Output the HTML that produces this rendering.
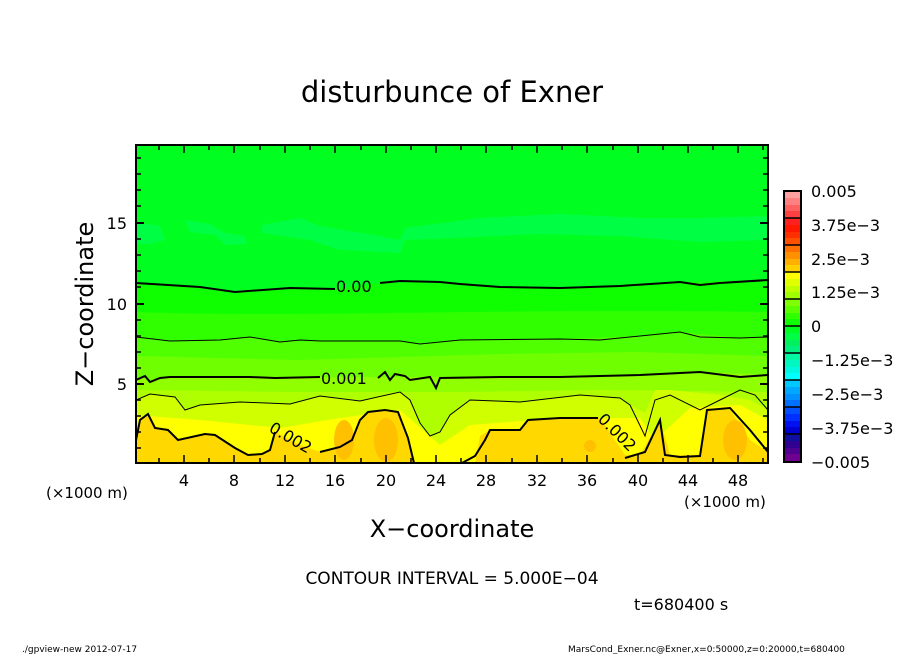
<!DOCTYPE html>
<html><head><style>
body{margin:0;background:#fff;}
svg text{font-family:"DejaVu Sans","Liberation Sans",sans-serif;}
</style></head><body>
<svg width="904" height="654" xmlns="http://www.w3.org/2000/svg">
<defs><clipPath id="c"><rect x="136" y="145" width="632" height="318"/></clipPath></defs>
<g clip-path="url(#c)">
<rect x="136" y="145" width="632" height="318" fill="#00ff20"/>
<path d="M136,222 L160,226 L165,240 L150,244 L136,244Z" fill="#00ff44"/>
<path d="M185,220 L210,224 L225,233 L245,236 L247,244 L225,245 L215,235 L190,232Z" fill="#00ff44"/>
<path d="M262,225 L300,218 L320,226 L380,236 L400,240 L405,228 L480,218 L560,214 L640,218 L700,218 L768,216 L768,240 L700,242 L620,236 L540,234 L405,240 L400,253 L340,250 L310,240 L262,233Z" fill="#00ff44"/>
<path d="M136,283 L200,287 L235,292 L290,288 L335,289 L380,283 L440,282 L500,287 L560,288 L620,286 L680,282 L768,280 L768,463 L136,463Z" fill="#10ff00"/>
<path d="M136,312 C300,318 500,308 768,312 L768,463 L136,463Z" fill="#30ff00"/>
<path d="M136,337 L170,341 L220,340 L250,337 L280,342 L320,341 L400,341 L420,344 L460,340 L560,339 L640,336 L680,332 L740,338 L768,337 L768,463 L136,463Z" fill="#50ff00"/>
<path d="M136,356 L300,360 L500,354 L640,352 L768,356 L768,463 L136,463Z" fill="#70ff00"/>
<path d="M136,380 L145,376 L150,382 L170,377 L320,377 L400,377 L500,377 L600,376 L700,372 L768,375 L768,463 L136,463Z" fill="#90ff00"/>
<path d="M136,390 L300,392 L460,392 L600,390 L768,392 L768,463 L136,463Z" fill="#b0ff00"/>
<path d="M136,400 L150,394 L175,397 L185,410 L200,405 L240,402 L290,404 L320,396 L360,401 L400,392 L410,400 L420,423 L430,436 L440,432 L450,415 L470,400 L520,402 L580,395 L620,398 L630,405 L645,413 L655,390 L670,390 L700,393 L720,395 L750,400 L768,410 L768,463 L136,463Z" fill="#d0ff00"/>
<path d="M136,415 L200,420 L280,428 L340,418 L400,410 L440,445 L470,425 L560,418 L640,418 L655,440 L690,408 L740,405 L768,420 L768,463 L136,463Z" fill="#ffff00"/>
<path d="M136,440 L140,420 L148,414 L155,428 L168,430 L178,440 L205,434 L215,435 L235,448 L248,455 L262,454 L270,450 L275,432 L300,445 L320,452 L340,447 L352,440 L360,420 L368,412 L385,410 L398,412 L408,438 L414,463 L136,463Z" fill="#ffd800"/>
<path d="M475,463 L480,436 L490,430 L520,430 L530,420 L560,418 L600,418 L625,455 L640,455 L660,420 L670,455 L700,455 L707,408 L730,410 L750,440 L768,452 L768,463Z" fill="#ffd800"/>
<ellipse cx="344" cy="440" rx="10" ry="20" fill="#ffc000"/>
<ellipse cx="386" cy="440" rx="12" ry="22" fill="#ffc000"/>
<ellipse cx="590" cy="446" rx="6" ry="6" fill="#ffc000"/>
<ellipse cx="735" cy="440" rx="12" ry="20" fill="#ffc000"/>
<g fill="none" stroke="#000">
<path d="M136,283 L200,287 L235,292 L290,288 L335,289 M380,283 L400,281 L440,282 L460,284 L500,287 L560,288 L620,286 L680,282 L700,285 L720,283 L768,280" stroke-width="2"/>
<path d="M136,337 L170,341 L220,340 L250,337 L280,342 L300,340 L320,341 L400,341 L420,344 L460,340 L560,339 L600,340 L640,336 L680,332 L700,337 L740,338 L768,337" stroke-width="1"/>
<path d="M136,380 L145,376 L150,382 L160,378 L170,377 L200,377 L250,377 L275,378 L320,377 M378,378 L385,372 L390,380 L395,374 L405,376 L410,380 L430,377 L436,388 L440,378 L500,377 L560,377 L600,376 L640,375 L700,372 L740,377 L768,375" stroke-width="2"/>
<path d="M136,400 L150,394 L175,397 L185,410 L200,405 L240,402 L290,404 L320,396 L360,401 L400,392 L410,400 L420,423 L430,436 L440,432 L450,415 L470,400 L520,402 L580,395 L620,398 L630,405 L645,436 L655,400 L670,395 L700,410 L720,400 L740,390 L755,395 L768,410" stroke-width="1"/>
<path d="M136,440 L140,420 L148,414 L155,428 L168,430 L178,440 L205,434 L215,435 L235,448 L248,455 L262,454 L270,450 L275,432 M320,452 L340,447 L352,440 L360,420 L368,412 L385,410 L398,412 L408,438 L414,463" stroke-width="2"/>
<path d="M462,463 L475,456 L485,440 L490,430 L520,430 L528,420 L560,418 L598,418 M625,458 L645,452 L660,420 L665,455 L680,457 L700,456 L707,410 L730,408 L750,430 L768,452" stroke-width="2"/>
</g>
<g font-size="16" fill="#000">
<text x="336" y="292">0.00</text>
<text x="321" y="384">0.001</text>
<text x="268" y="431" transform="rotate(30 268 431)">0.002</text>
<text x="597" y="420" transform="rotate(45 597 420)">0.002</text>
</g>
</g>
<rect x="136" y="145" width="632" height="318" fill="none" stroke="#000" stroke-width="2"/>
<g stroke="#000" stroke-width="1.5">
<path d="M184,463v-8M234,463v-8M285,463v-8M335,463v-8M386,463v-8M436,463v-8M486,463v-8M537,463v-8M587,463v-8M638,463v-8M688,463v-8M738,463v-8"/>
<path d="M184,145v8M234,145v8M285,145v8M335,145v8M386,145v8M436,145v8M486,145v8M537,145v8M587,145v8M638,145v8M688,145v8M738,145v8"/>
<path d="M159,463v-5M209,463v-5M260,463v-5M310,463v-5M361,463v-5M411,463v-5M461,463v-5M512,463v-5M562,463v-5M613,463v-5M663,463v-5M713,463v-5M763,463v-5"/>
<path d="M159,145v5M209,145v5M260,145v5M310,145v5M361,145v5M411,145v5M461,145v5M512,145v5M562,145v5M613,145v5M663,145v5M713,145v5M763,145v5"/>
<path d="M136,223h8M136,304h8M136,384h8M768,223h-8M768,304h-8M768,384h-8" stroke-width="2"/>
<path d="M136,158h5M136,174h5M136,190h5M136,206h5M136,239h5M136,255h5M136,271h5M136,287h5M136,320h5M136,336h5M136,352h5M136,368h5M136,400h5M136,416h5M136,432h5M136,448h5"/>
<path d="M768,158h-5M768,174h-5M768,190h-5M768,206h-5M768,239h-5M768,255h-5M768,271h-5M768,287h-5M768,320h-5M768,336h-5M768,352h-5M768,368h-5M768,400h-5M768,416h-5M768,432h-5M768,448h-5"/>
</g>
<g font-size="16" fill="#000" text-anchor="middle">
<text x="184" y="486">4</text><text x="234" y="486">8</text><text x="285" y="486">12</text><text x="335" y="486">16</text><text x="386" y="486">20</text><text x="436" y="486">24</text><text x="486" y="486">28</text><text x="537" y="486">32</text><text x="587" y="486">36</text><text x="638" y="486">40</text><text x="688" y="486">44</text><text x="738" y="486">48</text>
</g>
<g font-size="16" fill="#000" text-anchor="end">
<text x="127" y="229">15</text><text x="127" y="310">10</text><text x="127" y="390">5</text>
</g>
<text x="46" y="498" font-size="15">(×1000 m)</text>
<text x="684" y="507" font-size="15">(×1000 m)</text>
<text x="452" y="102" font-size="29" text-anchor="middle">disturbunce of Exner</text>
<text x="452" y="537" font-size="24" text-anchor="middle">X−coordinate</text>
<text x="93" y="304" font-size="24" text-anchor="middle" transform="rotate(-90 93 304)">Z−coordinate</text>
<text x="452" y="584" font-size="17" text-anchor="middle">CONTOUR INTERVAL = 5.000E−04</text>
<text x="634" y="610" font-size="16">t=680400 s</text>
<text x="22" y="652" font-size="9">./gpview-new  2012-07-17</text>
<text x="568" y="652" font-size="9">MarsCond_Exner.nc@Exner,x=0:50000,z=0:20000,t=680400</text>
<g>
<rect x="784" y="191" width="17" height="7" fill="#ffa0a0"/><rect x="784" y="198" width="17" height="7" fill="#ff8080"/><rect x="784" y="205" width="17" height="6" fill="#ff6060"/><rect x="784" y="211" width="17" height="7" fill="#ff4040"/>
<rect x="784" y="218" width="17" height="7" fill="#ff2020"/><rect x="784" y="225" width="17" height="7" fill="#ff1800"/><rect x="784" y="232" width="17" height="6" fill="#ff3000"/><rect x="784" y="238" width="17" height="7" fill="#ff5000"/>
<rect x="784" y="245" width="17" height="7" fill="#ff7000"/><rect x="784" y="252" width="17" height="7" fill="#ff9000"/><rect x="784" y="259" width="17" height="6" fill="#ffb000"/><rect x="784" y="265" width="17" height="7" fill="#ffd000"/>
<rect x="784" y="272" width="17" height="7" fill="#ffff00"/><rect x="784" y="279" width="17" height="7" fill="#e0ff00"/><rect x="784" y="286" width="17" height="6" fill="#c0ff00"/><rect x="784" y="292" width="17" height="7" fill="#a0ff00"/>
<rect x="784" y="299" width="17" height="7" fill="#80ff00"/><rect x="784" y="306" width="17" height="7" fill="#5cff00"/><rect x="784" y="313" width="17" height="6" fill="#30ff00"/><rect x="784" y="319" width="17" height="7" fill="#10ff00"/>
<rect x="784" y="326" width="17" height="7" fill="#00ff20"/><rect x="784" y="333" width="17" height="7" fill="#00ff44"/><rect x="784" y="340" width="17" height="6" fill="#00f060"/><rect x="784" y="346" width="17" height="7" fill="#00f080"/>
<rect x="784" y="353" width="17" height="7" fill="#00f8a0"/><rect x="784" y="360" width="17" height="7" fill="#00f8c0"/><rect x="784" y="367" width="17" height="6" fill="#00f8e0"/><rect x="784" y="373" width="17" height="7" fill="#00ffff"/>
<rect x="784" y="380" width="17" height="7" fill="#00c8ff"/><rect x="784" y="387" width="17" height="7" fill="#00a8ff"/><rect x="784" y="394" width="17" height="6" fill="#0090ff"/><rect x="784" y="400" width="17" height="7" fill="#0070ff"/>
<rect x="784" y="407" width="17" height="7" fill="#0050ff"/><rect x="784" y="414" width="17" height="7" fill="#0030ff"/><rect x="784" y="421" width="17" height="6" fill="#0010f0"/><rect x="784" y="427" width="17" height="7" fill="#0000d0"/>
<rect x="784" y="434" width="17" height="7" fill="#1010a0"/><rect x="784" y="441" width="17" height="7" fill="#300090"/><rect x="784" y="448" width="17" height="6" fill="#500090"/><rect x="784" y="454" width="17" height="8" fill="#700090"/>
<g stroke="#000" stroke-width="1.5"><path d="M784,218h17M784,245h17M784,272h17M784,299h17M784,326h17M784,353h17M784,380h17M784,407h17M784,434h17"/></g>
<rect x="784" y="191" width="17" height="271" fill="none" stroke="#000" stroke-width="2"/>
</g>
<g font-size="16" fill="#000">
<text x="811" y="197">0.005</text><text x="811" y="231">3.75e−3</text><text x="811" y="265">2.5e−3</text><text x="811" y="298">1.25e−3</text><text x="811" y="332">0</text><text x="811" y="366">−1.25e−3</text><text x="811" y="400">−2.5e−3</text><text x="811" y="434">−3.75e−3</text><text x="811" y="468">−0.005</text>
</g>
</svg>
</body></html>
